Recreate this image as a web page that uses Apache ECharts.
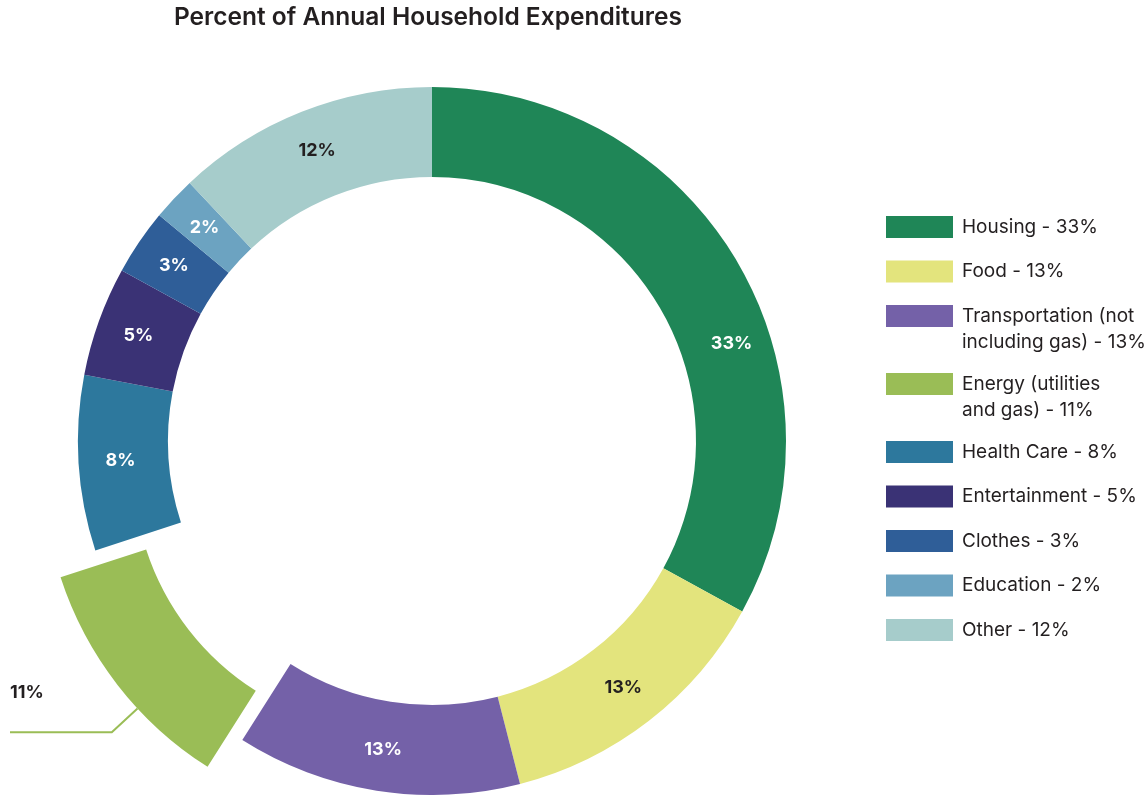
<!DOCTYPE html>
<html>
<head>
<meta charset="utf-8">
<script src="https://cdn.jsdelivr.net/npm/echarts@6/dist/echarts.min.js"></script>
<style>
  html, body { margin: 0; padding: 0; background: #ffffff; }
  #chart { width: 1145px; height: 795px; }
</style>
</head>
<body>
<div id="chart"></div>
<script>
// Spending categories and their share of the household budget (percent)
const categories = [
  'Housing',
  'Food',
  'Transportation (not including gas)',
  'Energy (utilities and gas)',
  'Health Care',
  'Entertainment',
  'Clothes',
  'Education',
  'Other'
];
const shares = [33, 13, 13, 11, 8, 5, 3, 2, 12];
const legendLabels = [
  'Housing - 33%',
  'Food - 13%',
  'Transportation (not\nincluding gas) - 13%',
  'Energy (utilities\nand gas) - 11%',
  'Health Care - 8%',
  'Entertainment - 5%',
  'Clothes - 3%',
  'Education - 2%',
  'Other - 12%'
];

// Styling
const sliceColors = ['#1F8657', '#E3E47D', '#7461A8', '#9ABD56', '#2D789D', '#3A3275', '#2F5E98', '#6CA3C1', '#A6CCCB'];
const labelColors = ['#FFFFFF', '#231F20', '#FFFFFF', '#231F20', '#FFFFFF', '#FFFFFF', '#FFFFFF', '#FFFFFF', '#231F20'];
const INK = '#231F20';
const FONT = 'Inter';
const CLEAR = 'rgba(0,0,0,0)';

// Ring geometry
const CX = 432, CY = 441, R_IN = 264, R_OUT = 354;
const EXPLODED = 3;          // the pulled-out slice
const EXPLODE_DIST = 44;
const HOUSING_LABEL_DEG = 72; // housing label sits further round its arc
const LABEL_RADIUS = (R_IN + R_OUT) / 2 + 6;

// Where the pulled-out slice's centre moves to
const total = shares.reduce((a, b) => a + b, 0);
const before = shares.slice(0, EXPLODED).reduce((a, b) => a + b, 0);
const midDeg = (before + shares[EXPLODED] / 2) / total * 360;   // clockwise from 12 o'clock
const midRad = midDeg * Math.PI / 180;
const CXE = CX + EXPLODE_DIST * Math.sin(midRad);
const CYE = CY - EXPLODE_DIST * Math.cos(midRad);

// Callout for the pulled-out slice
const CALLOUT_DEG = midDeg - 5;
const CALLOUT_LEAD = 35;
const CALLOUT_EDGE = 10;
const CALLOUT_RISE = 40;

function polar(cx, cy, r, deg) {
  const a = deg * Math.PI / 180;
  return [cx + r * Math.sin(a), cy - r * Math.cos(a)];
}

const sliceLabel = {
  formatter: '{c}%',
  fontFamily: FONT,
  fontSize: 18,
  fontWeight: 700,
  textBorderWidth: 0,
  textShadowBlur: 0
};

// Main ring: every slice except the pulled-out one
const ringData = shares.map((v, i) => i === EXPLODED
  ? { value: v, name: '', itemStyle: { color: CLEAR }, label: { show: false }, labelLine: { show: false } }
  : { value: v, name: categories[i], itemStyle: { color: sliceColors[i] }, label: { color: labelColors[i] } });

// Second ring, offset outward, where only the pulled-out slice is visible
const explodedData = shares.map((v, i) => i === EXPLODED
  ? { value: v, name: categories[i], itemStyle: { color: sliceColors[i] },
      label: { show: true, color: labelColors[i] }, labelLine: { show: true } }
  : { value: v, name: '', itemStyle: { color: CLEAR }, label: { show: false }, labelLine: { show: false } });

// One legend block per category so wrapped entries keep their first line beside the swatch
const LEGEND_LEFT = 886;
const LEGEND_FIRST_TOP = 216;
const LEGEND_STEP = 44.5;
const LEGEND_WRAP_EXTRA = 23.5;
const LEGEND_LINE_H = 26;
const SWATCH_W = 67, SWATCH_H = 22;

const legends = [];
let swatchTop = LEGEND_FIRST_TOP;
categories.forEach((name, i) => {
  const text = legendLabels[i];
  const lines = text.split('\n').length;
  const shown = '\n'.repeat(lines - 1) + text;
  const blockH = (2 * lines - 1) * LEGEND_LINE_H;
  const swatchMid = swatchTop + SWATCH_H / 2;
  legends.push({
    data: [name],
    orient: 'vertical',
    left: LEGEND_LEFT,
    top: swatchMid - Math.max(blockH / 2, SWATCH_H / 2),
    padding: 0,
    icon: 'rect',
    itemWidth: SWATCH_W,
    itemHeight: SWATCH_H,
    selectedMode: false,
    formatter: () => shown,
    textStyle: {
      fontFamily: FONT,
      fontSize: 19,
      color: INK,
      lineHeight: LEGEND_LINE_H,
      padding: [0, 0, 0, 4]
    }
  });
  swatchTop += LEGEND_STEP + (lines - 1) * LEGEND_WRAP_EXTRA;
});

const chart = echarts.init(document.getElementById('chart'), null, { renderer: 'canvas' });
chart.setOption({
  animation: false,
  backgroundColor: '#ffffff',
  title: {
    text: 'Percent of Annual Household Expenditures',
    left: 174,
    top: 3,
    padding: 0,
    textStyle: { fontFamily: FONT, fontSize: 24.5, fontWeight: 600, color: INK, lineHeight: 30 }
  },
  legend: legends,
  series: [
    {
      type: 'pie',
      name: 'exploded',
      center: [CXE, CYE],
      radius: [R_IN, R_OUT],
      startAngle: 90,
      clockwise: true,
      padAngle: 0,
      silent: true,
      avoidLabelOverlap: false,
      itemStyle: { borderWidth: 0 },
      emphasis: { disabled: true },
      label: Object.assign({ position: 'outside' }, sliceLabel),
      labelLine: { show: true, smooth: false, length: CALLOUT_LEAD, length2: 60,
                   lineStyle: { color: sliceColors[EXPLODED], width: 2 } },
      labelLayout: function (p) {
        if (p.dataIndex !== EXPLODED) return {};
        const p0 = polar(CXE, CYE, R_OUT, CALLOUT_DEG);
        const p1 = polar(CXE, CYE, R_OUT + CALLOUT_LEAD, CALLOUT_DEG);
        const p2 = [CALLOUT_EDGE, p1[1]];
        return {
          x: CALLOUT_EDGE,
          y: p1[1] - CALLOUT_RISE,
          align: 'left',
          verticalAlign: 'middle',
          labelLinePoints: [p0, p1, p2]
        };
      },
      data: explodedData
    },
    {
      type: 'pie',
      name: 'ring',
      center: [CX, CY],
      radius: [R_IN, R_OUT],
      startAngle: 90,
      clockwise: true,
      padAngle: 0,
      silent: true,
      avoidLabelOverlap: false,
      itemStyle: { borderWidth: 0 },
      emphasis: { disabled: true },
      label: Object.assign({ position: 'inside' }, sliceLabel),
      labelLine: { show: false },
      labelLayout: function (p) {
        if (p.dataIndex !== 0) return {};
        const pt = polar(CX, CY, LABEL_RADIUS, HOUSING_LABEL_DEG);
        return { x: pt[0], y: pt[1] };
      },
      data: ringData
    }
  ]
});
</script>
</body>
</html>
